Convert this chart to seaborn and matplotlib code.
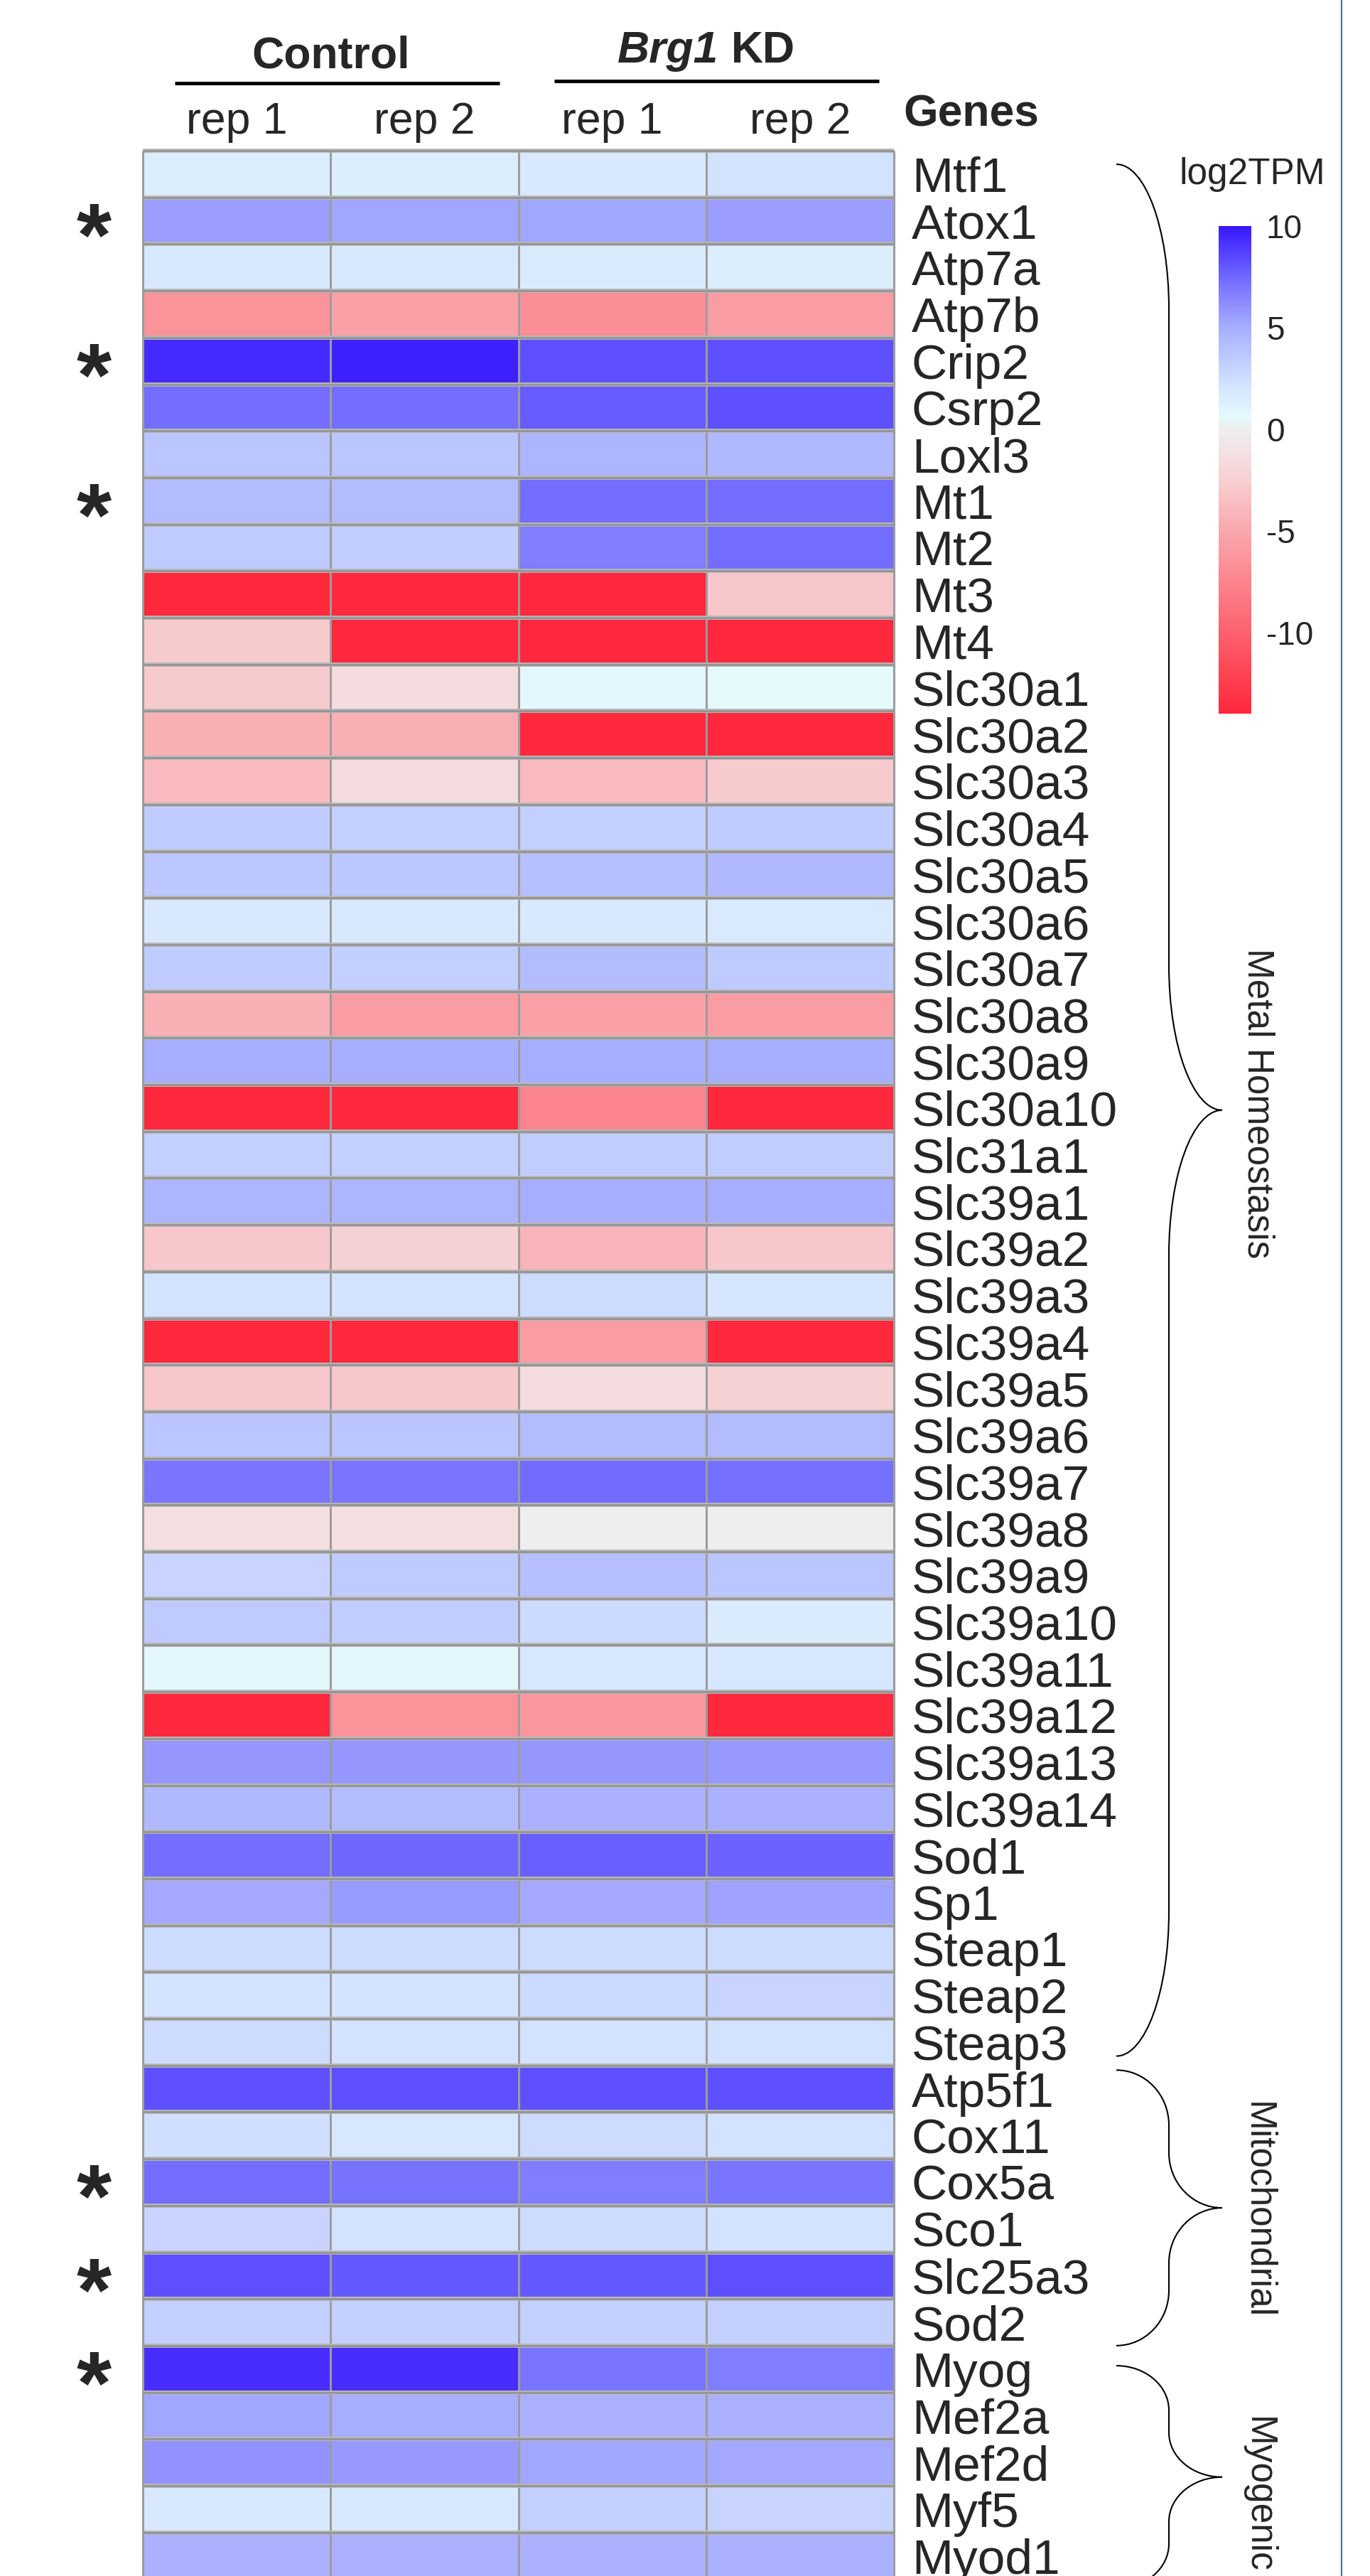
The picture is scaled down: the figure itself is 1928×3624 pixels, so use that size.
import numpy as np
import pandas as pd
import matplotlib
matplotlib.use("Agg")
import matplotlib.pyplot as plt
import seaborn as sns
import matplotlib.transforms as mtransforms
from matplotlib.colors import LinearSegmentedColormap
from matplotlib.path import Path
from matplotlib.patches import PathPatch
from matplotlib.lines import Line2D
from matplotlib.textpath import TextPath
from matplotlib.font_manager import FontProperties

# ---------------- data ----------------
genes = ["Mtf1", "Atox1", "Atp7a", "Atp7b", "Crip2", "Csrp2", "Loxl3", "Mt1", "Mt2", "Mt3",
         "Mt4", "Slc30a1", "Slc30a2", "Slc30a3", "Slc30a4", "Slc30a5", "Slc30a6", "Slc30a7",
         "Slc30a8", "Slc30a9", "Slc30a10", "Slc31a1", "Slc39a1", "Slc39a2", "Slc39a3",
         "Slc39a4", "Slc39a5", "Slc39a6", "Slc39a7", "Slc39a8", "Slc39a9", "Slc39a10",
         "Slc39a11", "Slc39a12", "Slc39a13", "Slc39a14", "Sod1", "Sp1", "Steap1", "Steap2",
         "Steap3", "Atp5f1", "Cox11", "Cox5a", "Sco1", "Slc25a3", "Sod2", "Myog", "Mef2a",
         "Mef2d", "Myf5", "Myod1"]

control_rep1 = [1.4, 5.5, 1.8, -6.5, 9.4, 7.3, 3.8, 4.2, 3.5, -14, -2.8, -2.8, -4.5, -3.8,
                3.4, 3.7, 1.8, 3.4, -4.5, 5.0, -14, 3.2, 4.6, -3.0, 2.2, -14, -3.0, 3.8, 7.0,
                -1.3, 2.9, 3.5, 0.8, -14, 5.8, 4.4, 7.3, 5.2, 2.5, 2.2, 2.5, 8.3, 2.4, 7.3,
                2.9, 8.3, 3.2, 9.3, 5.3, 6.0, 1.8, 4.8]
control_rep2 = [1.4, 5.3, 1.8, -5.5, 9.7, 7.3, 3.8, 4.2, 3.3, -14, -14, -1.5, -4.5, -1.5,
                3.2, 3.7, 1.8, 3.2, -5.8, 5.0, -14, 3.2, 4.6, -2.3, 2.2, -14, -3.0, 3.8, 7.0,
                -1.3, 3.5, 3.3, 0.8, -6.5, 5.8, 4.2, 7.5, 5.6, 2.5, 2.2, 2.2, 8.3, 1.9, 7.1,
                2.2, 8.0, 3.2, 9.3, 5.0, 5.7, 1.8, 4.8]
kd_rep1 = [1.8, 5.3, 1.6, -6.8, 8.3, 7.9, 4.6, 7.3, 6.8, -14, -14, 0.8, -14, -3.8,
           3.2, 4.0, 1.8, 4.2, -5.5, 5.0, -7.5, 3.3, 5.0, -4.2, 2.5, -5.8, -1.6, 4.2, 7.4,
           0.0, 4.0, 2.6, 1.9, -6.2, 5.8, 4.8, 7.8, 5.2, 2.5, 2.6, 2.2, 8.3, 2.5, 6.8,
           2.5, 8.0, 3.2, 7.0, 4.8, 5.3, 3.2, 4.8]
kd_rep2 = [2.2, 5.5, 1.4, -5.8, 8.3, 8.3, 4.4, 7.3, 7.3, -3.0, -14, 0.6, -14, -2.8,
           3.4, 4.4, 1.7, 3.5, -5.8, 5.0, -14, 3.3, 5.0, -3.0, 2.0, -14, -2.3, 4.2, 7.2,
           0.0, 3.8, 1.6, 1.9, -14, 5.7, 4.8, 7.7, 5.4, 2.5, 2.9, 2.2, 8.3, 2.2, 7.0,
           2.2, 8.3, 3.2, 6.8, 4.8, 5.2, 2.9, 4.8]

column_labels = ["rep 1", "rep 2", "rep 1", "rep 2"]
starred_genes = ["Atox1", "Crip2", "Mt1", "Cox5a", "Slc25a3", "Myog"]
cbar_ticks = [10, 5, 0, -5, -10]

# groups: label, brace top row, brace bottom row, label centre row
groups = [("Metal Homeostasis", 0.29, 40.8, 20.4),
          ("Mitochondrial", 41.1, 47.0, 44.1),
          ("Myogenic", 47.43, 52.2, 50.2)]

# colour scale nodes (value, colour)
cmap_nodes = [(-14, "#FF283C"), (-5, "#FAA8AE"), (-2, "#F6D6D9"), (0, "#EEEEEE"),
              (0.6, "#E6FAFC"), (2, "#D6E6FF"), (5, "#A8AEFF"), (7.5, "#706AFF"),
              (10, "#3818FF")]
vmin, vmax = -14, 10

# ---------------- style ----------------
sns.set_theme(style="white")
plt.rcParams['font.family'] = ['Liberation Sans', 'DejaVu Sans']
plt.rcParams['axes.unicode_minus'] = False

W, H, DPI = 1928, 3624, 100
fig = plt.figure(figsize=(W / DPI, H / DPI), dpi=DPI)
fig.patch.set_facecolor("white")


def fx(px):
    return px / W


def fy(py):
    return 1 - py / H


x_left, x_right = 201, 1258
y_top, pitch = 212, 65.7
y_bot = y_top + pitch * len(genes)
ax = fig.add_axes([fx(x_left), fy(y_bot), (x_right - x_left) / W, (y_bot - y_top) / H])

df = pd.DataFrame({"c1": control_rep1, "c2": control_rep2, "k1": kd_rep1, "k2": kd_rep2},
                  index=genes)
cmap = LinearSegmentedColormap.from_list(
    "log2tpm", [((v - vmin) / (vmax - vmin), c) for v, c in cmap_nodes])

sns.heatmap(df, ax=ax, cmap=cmap, vmin=vmin, vmax=vmax, cbar=False,
            linewidths=2.0, linecolor="#9c9c9c",
            xticklabels=column_labels, yticklabels=genes)

ncol = df.shape[1]
nrow = df.shape[0]
# row separators (thicker, with soft shadow)
ax.hlines(np.arange(nrow + 1), 0, ncol, colors="#b8b8b8", lw=4.2, clip_on=False, zorder=3)
ax.hlines(np.arange(nrow + 1), 0, ncol, colors="#949494", lw=2.0, clip_on=False, zorder=3)
ax.vlines([0, ncol], 0, nrow, colors="#9c9c9c", lw=2.2, clip_on=False, zorder=3)

ax.set_xlabel("")
ax.set_ylabel("")
ax.xaxis.tick_top()
ax.set_xticklabels(column_labels, rotation=0, fontsize=45)
ax.tick_params(axis="x", length=0, pad=8)
ax.yaxis.tick_right()
ax.set_yticklabels(genes, rotation=0, fontsize=50, ha="left")
ax.tick_params(axis="y", length=0, pad=18)
for s in ax.spines.values():
    s.set_visible(False)

# ---------------- header ----------------
blend = mtransforms.blended_transform_factory(ax.transData, fig.transFigure)
ax.text(1.0, fy(95), "Control", transform=blend, ha="center", va="baseline",
        fontsize=45, fontweight="bold")
ax.plot([0.17, 1.90], [fy(117)] * 2, transform=blend, color="black", lw=3.6,
        clip_on=False, solid_capstyle="butt")
ax.plot([2.19, 3.92], [fy(114)] * 2, transform=blend, color="black", lw=3.6,
        clip_on=False, solid_capstyle="butt")

# Brg1 (bold italic) + KD (bold), centred over KD columns
t1 = ax.text(0, 0, "Brg1", transform=mtransforms.IdentityTransform(), fontsize=45,
             fontweight="bold", fontstyle="italic", va="baseline", ha="left")
t2 = ax.text(0, 0, "KD", transform=mtransforms.IdentityTransform(), fontsize=45,
             fontweight="bold", va="baseline", ha="left")
fig.canvas.draw()
r = fig.canvas.get_renderer()
w1 = t1.get_window_extent(r).width
w2 = t2.get_window_extent(r).width
gap = 0.278 * 45 / 72 * DPI
cx = ax.transData.transform((3.0, 0))[0]
start = cx - (w1 + gap + w2) / 2
ybase = (1 - 88 / H) * H
t1.set_position((start, ybase))
t2.set_position((start + w1 + gap, ybase))

fig.text(fx(1271), fy(177), "Genes", fontsize=45, fontweight="bold", ha="left",
         va="baseline")

# ---------------- asterisks ----------------
fp = FontProperties(family="Liberation Sans", weight="bold", size=100)
ext = TextPath((0, 0), "*", prop=fp).get_extents()
target_h_pt = 47 * 72 / DPI
star_size = 100 * target_h_pt / ext.height
scale = star_size / 100
gcx = (ext.x0 + ext.x1) / 2 * scale
gcy = (ext.y0 + ext.y1) / 2 * scale
star_tr = ax.transData + mtransforms.ScaledTranslation(-gcx / 72, -gcy / 72,
                                                       fig.dpi_scale_trans)
for g in starred_genes:
    i = genes.index(g)
    ax.text(-0.261, i + 0.5, "*", transform=star_tr, ha="left", va="baseline",
            fontsize=star_size, fontweight="bold", clip_on=False)


# ---------------- braces ----------------
def brace(axis, ytop, ybot, xe, xv, xt, rmax):
    ytip = (ytop + ybot) / 2
    r1 = min(rmax, 0.4 * (ytip - ytop))
    k = 0.5523
    dx = xv - xe
    dx2 = xt - xv
    verts = [(xe, ytop),
             (xe + k * dx, ytop), (xv, ytop + r1 * (1 - k)), (xv, ytop + r1),
             (xv, ytip - r1),
             (xv, ytip - r1 + k * r1), (xt - k * dx2, ytip), (xt, ytip),
             (xt - k * dx2, ytip), (xv, ytip + r1 - k * r1), (xv, ytip + r1),
             (xv, ybot - r1),
             (xv, ybot - r1 + k * r1), (xe + k * dx, ybot), (xe, ybot)]
    codes = [Path.MOVETO,
             Path.CURVE4, Path.CURVE4, Path.CURVE4,
             Path.LINETO,
             Path.CURVE4, Path.CURVE4, Path.CURVE4,
             Path.CURVE4, Path.CURVE4, Path.CURVE4,
             Path.LINETO,
             Path.CURVE4, Path.CURVE4, Path.CURVE4]
    patch = PathPatch(Path(verts, codes), fill=False, lw=1.5, edgecolor="black",
                      transform=axis.transData, clip_on=False)
    axis.add_patch(patch)


def px_to_dx(px):
    return (px - x_left) / (x_right - x_left) * ncol


for label, yt, yb, ylab in groups:
    brace(ax, yt, yb, px_to_dx(1571), px_to_dx(1645), px_to_dx(1720), 3.1)
    ax.text(px_to_dx(1770), ylab, label, rotation=-90, ha="center", va="center",
            fontsize=37, clip_on=False)

ax.set_xlim(0, ncol)
ax.set_ylim(nrow, 0)

# ---------------- colour bar ----------------
cax = fig.add_axes([fx(1715), fy(1004), 46 / W, (1004 - 318) / H])
cb = fig.colorbar(ax.collections[0], cax=cax, ticks=cbar_ticks)
cb.outline.set_visible(False)
cax.tick_params(length=0, labelsize=33, pad=15)
fig.text(fx(1762), fy(245), "log2TPM", ha="center", va="center", fontsize=37)

# right frame line
fig.add_artist(Line2D([fx(1888), fx(1888)], [0, 1], transform=fig.transFigure,
                      color="#4a6ea8", lw=1.5))

fig.savefig("out.png", dpi=DPI, facecolor="white")
